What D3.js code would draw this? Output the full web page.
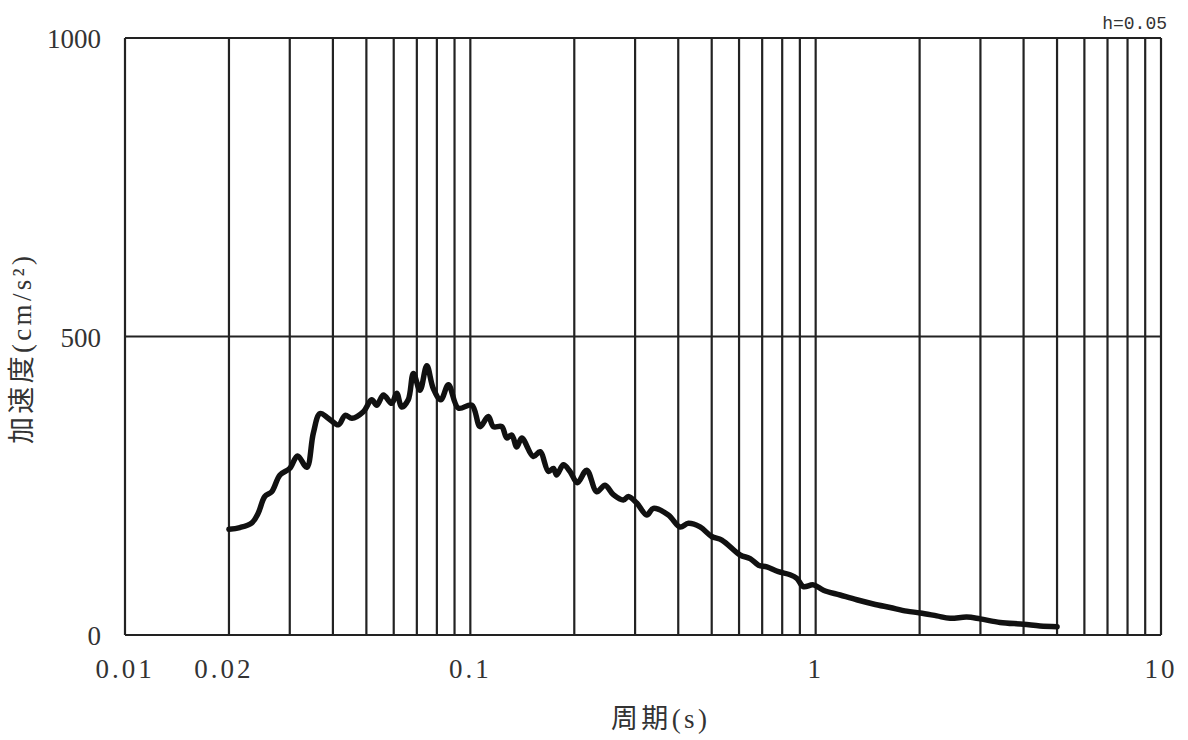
<!DOCTYPE html>
<html>
<head>
<meta charset="utf-8">
<script src="https://cdn.jsdelivr.net/npm/d3@7"></script>
<style>
  html, body { margin: 0; padding: 0; background: #fff; }
  svg { display: block; }
</style>
</head>
<body>
<svg id="chart" width="1188" height="740"></svg>
<script>
// ---- data (period in s, acceleration in cm/s^2) ----
const periods = [0.020, 0.0215, 0.0233, 0.0243, 0.0254, 0.0266, 0.0281, 0.0300, 0.0316, 0.0336,
  0.0351, 0.0367, 0.0388, 0.0415, 0.0434, 0.0454, 0.0490, 0.0518, 0.0536, 0.0560,
  0.0592, 0.0612, 0.0633, 0.0661, 0.0684, 0.0715, 0.0748, 0.0781, 0.0821, 0.0864,
  0.0923, 0.101, 0.1067, 0.1127, 0.1166, 0.1233, 0.1275, 0.1318, 0.1363, 0.1409,
  0.1522, 0.1592, 0.1683, 0.1740, 0.1779, 0.1859, 0.1944, 0.2041, 0.2173, 0.2323,
  0.2455, 0.2595, 0.2774, 0.2868, 0.3033, 0.3243, 0.3388, 0.3745, 0.4049, 0.428,
  0.4626, 0.500, 0.535, 0.604, 0.646, 0.683, 0.722, 0.780, 0.843, 0.882,
  0.921, 0.985, 1.053, 1.177, 1.315, 1.469, 1.643, 1.835, 2.006, 2.242,
  2.451, 2.739, 2.993, 3.42, 3.995, 4.466, 5.0];
const accel = [177, 180, 188, 204, 232, 240, 268, 279, 300, 281,
  338, 371, 363, 352, 368, 363, 374, 394, 385, 402,
  388, 405, 382, 394, 438, 410, 451, 413, 394, 419,
  380, 385, 349, 366, 349, 349, 330, 335, 315, 330,
  299, 307, 274, 279, 268, 285, 274, 255, 276, 240,
  251, 235, 226, 232, 221, 201, 212, 201, 181, 187,
  181, 165, 159, 134, 128, 117, 114, 106, 101, 95,
  81, 84, 75, 67, 59, 52, 46, 40, 37, 32,
  28, 30, 27, 21, 18, 15, 14];

const xTickValues = [0.01, 0.02, 0.1, 1, 10];
const xTickLabels = ["0.01", "0.02", "0.1", "1", "10"];
const xGridValues = [0.02, 0.03, 0.04, 0.05, 0.06, 0.07, 0.08, 0.09, 0.1,
  0.2, 0.3, 0.4, 0.5, 0.6, 0.7, 0.8, 0.9, 1,
  2, 3, 4, 5, 6, 7, 8, 9, 10];
const yTickValues = [0, 500, 1000];
const yTickLabels = ["0", "500", "1000"];
const xTitle = "周期(s)";
const yTitle = "加速度(cm/s²)";
const note = "h=0.05";

// ---- layout ----
const W = 1188, H = 740;
const margin = { left: 125, right: 27, top: 38, bottom: 105 };
const svg = d3.select("#chart");
const x = d3.scaleLog().domain([0.01, 10]).range([margin.left, W - margin.right]);
const y = d3.scaleLinear().domain([0, 1000]).range([H - margin.bottom, margin.top]);

const gridColor = "#222";
const textColor = "#333";
const serif = "'Liberation Serif', 'Noto Sans CJK JP', serif";

// vertical grid lines
svg.append("g").selectAll("line").data(xGridValues).join("line")
  .attr("x1", d => x(d)).attr("x2", d => x(d))
  .attr("y1", y(0)).attr("y2", y(1000))
  .attr("stroke", gridColor).attr("stroke-width", 2.2);

// horizontal grid lines
svg.append("g").selectAll("line").data(yTickValues).join("line")
  .attr("x1", x(0.01)).attr("x2", x(10))
  .attr("y1", d => y(d)).attr("y2", d => y(d))
  .attr("stroke", gridColor).attr("stroke-width", 2.2);

// left border
svg.append("line")
  .attr("x1", x(0.01)).attr("x2", x(0.01))
  .attr("y1", y(0)).attr("y2", y(1000))
  .attr("stroke", gridColor).attr("stroke-width", 2.2);

// x tick labels
svg.append("g").selectAll("text").data(xTickValues).join("text")
  .attr("x", (d, i) => x(d) - (i === 1 ? 5 : 0))
  .attr("y", y(0) + 43)
  .attr("text-anchor", "middle")
  .attr("font-family", serif).attr("font-size", 27)
  .attr("letter-spacing", 3)
  .attr("fill", textColor)
  .text((d, i) => xTickLabels[i]);

// y tick labels
svg.append("g").selectAll("text").data(yTickValues).join("text")
  .attr("x", x(0.01) - 24)
  .attr("y", d => y(d) + 10)
  .attr("text-anchor", "end")
  .attr("font-family", serif).attr("font-size", 27)
  .attr("fill", textColor)
  .text((d, i) => yTickLabels[i]);

// axis titles
svg.append("text")
  .attr("x", 659).attr("y", 728)
  .attr("text-anchor", "middle")
  .attr("font-family", serif).attr("font-size", 27)
  .attr("textLength", 96).attr("lengthAdjust", "spacing")
  .attr("fill", textColor)
  .text(xTitle);

svg.append("text")
  .attr("transform", "translate(31,350) rotate(-90)")
  .attr("text-anchor", "middle")
  .attr("font-family", serif).attr("font-size", 27)
  .attr("textLength", 188).attr("lengthAdjust", "spacing")
  .attr("fill", textColor)
  .text(yTitle);

// damping note
svg.append("text")
  .attr("x", W - 21).attr("y", 29)
  .attr("text-anchor", "end")
  .attr("font-family", "'Liberation Mono', monospace").attr("font-size", 18)
  .attr("fill", textColor)
  .text(note);

// spectrum curve
const pts = periods.map((p, i) => [p, accel[i]]);
const line = d3.line().x(d => x(d[0])).y(d => y(d[1])).curve(d3.curveCatmullRom.alpha(0.5));
svg.append("path")
  .attr("d", line(pts))
  .attr("fill", "none")
  .attr("stroke", "#111")
  .attr("stroke-width", 5.5)
  .attr("stroke-linejoin", "round")
  .attr("stroke-linecap", "round");
</script>
</body>
</html>
